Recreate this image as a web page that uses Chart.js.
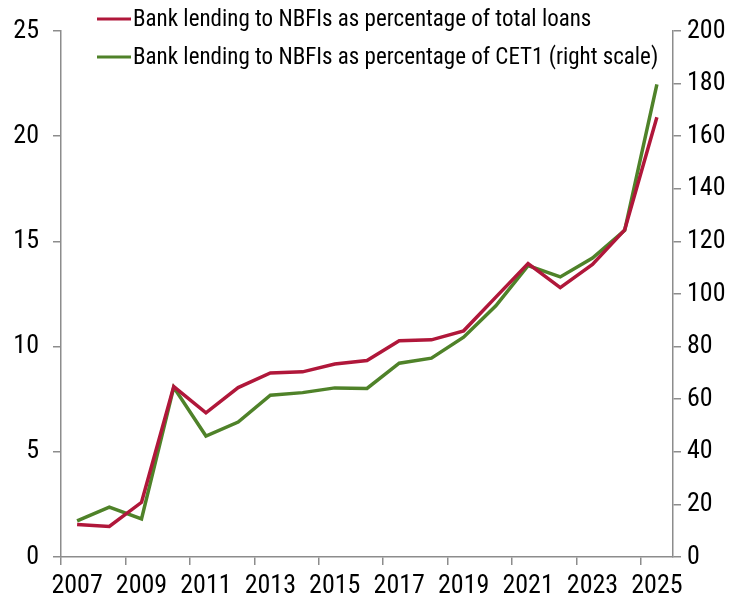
<!DOCTYPE html>
<html lang="en">
<head>
    <meta charset="UTF-8">
    <title>Bank lending to NBFIs</title>
    <script src="https://cdn.jsdelivr.net/npm/chart.js"></script>
    <style>
        body { margin: 0; background: #fff; }
        #wrap { width: 738px; height: 604px; }
    </style>
</head>
<body>

    <div id="wrap">
        <canvas id="myChart"></canvas>
    </div>

    <script>
        const years = ['2007', '2008', '2009', '2010', '2011', '2012', '2013', '2014', '2015', '2016',
                       '2017', '2018', '2019', '2020', '2021', '2022', '2023', '2024', '2025'];
        // % of total loans (left scale)
        const pctLoans = [1.55, 1.45, 2.6, 8.1, 6.85, 8.05, 8.75, 8.8, 9.17, 9.34,
                          10.28, 10.32, 10.75, 12.35, 13.95, 12.8, 13.9, 15.55, 20.9];
        // % of CET1 (right scale)
        const pctCet1 = [13.7, 19, 14.5, 64.5, 46, 51.3, 61.5, 62.5, 64.3, 64.1,
                         73.7, 75.6, 83.6, 95.5, 110.8, 106.5, 113.7, 124.2, 179.7];
        const leftTicks = [0, 5, 10, 15, 20, 25];
        const rightTicks = [0, 20, 40, 60, 80, 100, 120, 140, 160, 180, 200];

        const FONT = '"Liberation Sans Narrow", "Arial Narrow", "Roboto Condensed", sans-serif';
        const AXIS = '#8c8c8c';

        // legend drawn over the top-left of the plot
        const legendPlugin = {
            id: 'topLegend',
            afterDraw: (chart) => {
                const {ctx} = chart;
                ctx.save();
                ctx.font = '23px ' + FONT;
                ctx.textBaseline = 'middle';
                chart.data.datasets.forEach((ds, i) => {
                    const y = 19 + i * 38;
                    ctx.strokeStyle = ds.borderColor;
                    ctx.lineWidth = 3;
                    ctx.beginPath();
                    ctx.moveTo(97, y);
                    ctx.lineTo(131, y);
                    ctx.stroke();
                    ctx.fillStyle = '#000';
                    ctx.fillText(ds.label, 133, y + 1);
                });
                ctx.restore();
            }
        };

        const ctx = document.getElementById('myChart');

        new Chart(ctx, {
            type: 'line',
            data: {
                labels: years,
                datasets: [
                    {
                        label: 'Bank lending to NBFIs as percentage of total loans',
                        data: pctLoans,
                        borderColor: '#b0173a',
                        borderWidth: 3.5,
                        pointRadius: 0,
                        tension: 0,
                        yAxisID: 'y'
                    },
                    {
                        label: 'Bank lending to NBFIs as percentage of CET1 (right scale)',
                        data: pctCet1,
                        borderColor: '#4f8229',
                        borderWidth: 3.5,
                        pointRadius: 0,
                        tension: 0,
                        yAxisID: 'y1'
                    }
                ]
            },
            options: {
                responsive: true,
                maintainAspectRatio: false,
                animation: false,
                layout: { padding: { top: 31, left: 0, right: 0, bottom: 0 } },
                plugins: {
                    legend: { display: false },
                    tooltip: { enabled: false }
                },
                scales: {
                    x: {
                        type: 'category',
                        offset: true,
                        grid: {
                            offset: true,
                            drawOnChartArea: false,
                            tickLength: 8,
                            lineWidth: 1.5,
                            color: (c) => (c.index % 2 === 0 ? AXIS : 'rgba(0,0,0,0)')
                        },
                        border: { color: AXIS, width: 1.5 },
                        ticks: {
                            autoSkip: false,
                            maxRotation: 0,
                            padding: 6,
                            color: '#000',
                            font: { family: FONT, size: 26 },
                            callback: function (val, i) { return i % 2 === 0 ? years[i] : ''; }
                        },
                        afterFit: (s) => { s.height = 47; }
                    },
                    y: {
                        position: 'left',
                        min: 0,
                        max: 25,
                        afterBuildTicks: (s) => { s.ticks = leftTicks.map(v => ({value: v})); },
                        grid: { drawOnChartArea: false, tickLength: 8, color: AXIS, lineWidth: 1.5 },
                        border: { color: AXIS, width: 1.5 },
                        ticks: { padding: 14, color: '#000', font: { family: FONT, size: 26 } },
                        afterFit: (s) => { s.width = 61; }
                    },
                    y1: {
                        position: 'right',
                        min: 0,
                        max: 200,
                        afterBuildTicks: (s) => { s.ticks = rightTicks.map(v => ({value: v})); },
                        grid: { drawOnChartArea: false, tickLength: 8, color: AXIS, lineWidth: 1.5 },
                        border: { color: AXIS, width: 1.5 },
                        ticks: { padding: 6, color: '#000', font: { family: FONT, size: 26 } },
                        afterFit: (s) => { s.width = 65; }
                    }
                }
            },
            plugins: [legendPlugin]
        });
    </script>

</body>
</html>
